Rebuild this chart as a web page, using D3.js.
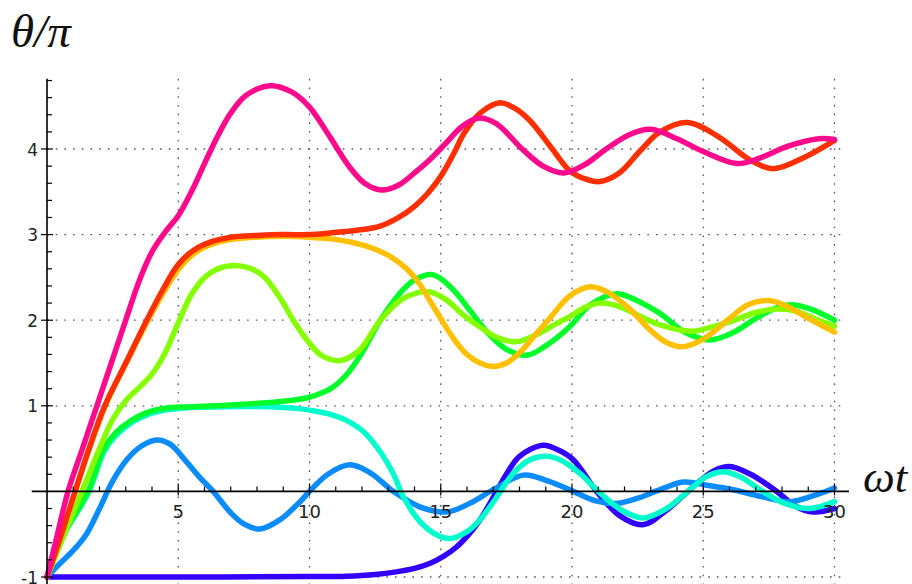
<!DOCTYPE html>
<html>
<head>
<meta charset="utf-8">
<script src="https://cdn.jsdelivr.net/npm/d3@7"></script>
<style>
html,body{margin:0;padding:0;background:#fff;}
svg{display:block;}
</style>
</head>
<body>
<svg id="chart" width="912" height="584"></svg>
<script>
// ---- data (t = ωt, θ/π) ----
const xTickValues = [5, 10, 15, 20, 25, 30];
const xTickLabels = ["5", "10", "15", "20", "25", "30"];
const yTickValues = [-1, 1, 2, 3, 4];
const yTickLabels = ["-1", "1", "2", "3", "4"];
const seriesNames = ["violet", "lightBlue", "cyan", "green", "yellowGreen", "orange", "red", "pink"];
const seriesColors = ["#3300ff", "#0a8cff", "#00ffcc", "#00ff2a", "#85ff00", "#ffc000", "#ff2f00", "#ff0a8c"];

const violet = [[0,-1],[5,-1],[10,-0.995],[11.4,-0.99],[12.5,-0.97],[13.3,-0.94],[14,-0.9],[14.6,-0.84],[15.1,-0.76],[15.6,-0.65],[16.1,-0.49],[16.5,-0.33],[17.13,0],[17.5,0.2],[18,0.41],[18.9,0.54],[19.5,0.48],[20.05,0.37],[20.94,0],[21.8,-0.28],[22.7,-0.39],[23.6,-0.22],[24.75,0.09],[25.4,0.24],[26,0.29],[26.8,0.2],[27.8,0],[28.5,-0.17],[29.2,-0.24],[30,-0.2]];
const lightBlue = [[0,-1],[0.5,-0.84],[1,-0.69],[1.5,-0.5],[2,-0.2],[2.5,0.12],[3.04,0.37],[3.6,0.53],[4.18,0.6],[4.7,0.55],[5.3,0.35],[5.8,0.17],[6.33,0],[7,-0.25],[7.5,-0.38],[8.11,-0.44],[8.88,-0.33],[9.64,-0.12],[10,0],[10.7,0.2],[11.54,0.31],[12.3,0.22],[13.2,0],[14.2,-0.18],[15.23,-0.24],[16.1,-0.14],[17,0.02],[18.15,0.19],[19.1,0.12],[20.05,0],[20.9,-0.11],[21.7,-0.14],[22.5,-0.08],[23.35,0.02],[24.24,0.11],[25.2,0.07],[26.14,0.02],[27.2,-0.06],[28.3,-0.12],[29.2,-0.05],[30,0.04]];
const cyan = [[0,-1],[0.62,-0.52],[1.6,0],[2.18,0.47],[2.65,0.66],[3.2,0.8],[3.85,0.9],[4.5,0.95],[5.5,0.98],[7,0.99],[8.5,0.99],[9.5,0.97],[10.2,0.94],[10.8,0.9],[11.4,0.83],[12.05,0.7],[12.7,0.46],[13.2,0.2],[13.57,-0.06],[14.2,-0.35],[14.8,-0.5],[15.35,-0.55],[16,-0.47],[16.5,-0.33],[17.1,-0.08],[17.76,0.21],[18.4,0.37],[19.04,0.41],[19.6,0.36],[20.3,0.21],[21.07,-0.02],[21.9,-0.22],[22.7,-0.31],[23.6,-0.2],[24.6,0.05],[25.1,0.17],[25.76,0.23],[26.4,0.17],[27.16,0.02],[28.1,-0.14],[29.07,-0.2],[30,-0.12]];
const green = [[0,-1],[0.6,-0.52],[1.57,0],[2.14,0.48],[2.6,0.68],[3.16,0.82],[3.8,0.92],[4.43,0.97],[5.5,0.99],[7,1.01],[8.5,1.04],[9.5,1.07],[10.2,1.12],[10.8,1.2],[11.4,1.36],[12,1.62],[12.7,2.0],[13.4,2.3],[14,2.47],[14.72,2.53],[15.4,2.38],[16.1,2.12],[16.8,1.85],[17.5,1.66],[18.27,1.59],[19,1.7],[19.9,1.92],[20.7,2.18],[21.7,2.31],[22.4,2.24],[23.35,2.08],[24.3,1.86],[25.26,1.77],[26.1,1.85],[26.9,2.0],[27.6,2.12],[28.3,2.18],[29.1,2.13],[30,2.0]];
const yellowGreen = [[0,-1],[0.6,-0.55],[1.33,0],[2,0.5],[2.5,0.84],[3,1.06],[3.5,1.21],[4,1.37],[4.5,1.62],[5,1.97],[5.5,2.3],[6,2.5],[6.5,2.6],[7.16,2.64],[7.8,2.6],[8.3,2.5],[8.9,2.25],[9.4,1.99],[10,1.73],[10.5,1.58],[11.2,1.53],[11.9,1.65],[12.7,2.0],[13.5,2.24],[14.1,2.32],[14.6,2.33],[15.2,2.24],[15.9,2.05],[16.5,1.92],[17.2,1.79],[17.9,1.75],[18.7,1.84],[19.4,1.96],[19.9,2.04],[20.5,2.15],[21.07,2.2],[21.8,2.16],[22.5,2.06],[23.3,1.95],[24.56,1.87],[25.2,1.91],[26,1.98],[27,2.09],[27.8,2.13],[28.6,2.1],[29.3,2.01],[30,1.93]];
const orange = [[0,-1],[0.5,-0.56],[1.08,0],[1.62,0.5],[2.22,1],[3.02,1.5],[3.85,2],[4.45,2.33],[5.05,2.61],[5.7,2.8],[6.4,2.9],[7.2,2.95],[8,2.97],[9,2.98],[10,2.97],[10.8,2.95],[11.6,2.91],[12.4,2.84],[13.1,2.74],[13.7,2.6],[14.2,2.42],[14.6,2.22],[15,2.02],[15.5,1.78],[16,1.6],[16.5,1.5],[17,1.46],[17.5,1.5],[18.1,1.65],[18.6,1.83],[19.2,2.04],[19.9,2.28],[20.7,2.39],[21.4,2.32],[22.2,2.13],[23,1.88],[23.6,1.74],[24.2,1.69],[25,1.78],[26,2.02],[26.7,2.18],[27.5,2.23],[28.2,2.16],[28.9,2.04],[30,1.86]];
const red = [[0,-1],[0.5,-0.55],[1.07,0],[1.6,0.5],[2.2,1],[3,1.5],[3.8,2],[4.4,2.35],[5,2.65],[5.6,2.82],[6.3,2.92],[7,2.97],[8,2.99],[9,3.0],[10,3.0],[10.8,3.02],[11.8,3.05],[12.7,3.1],[13.4,3.2],[14,3.33],[14.5,3.48],[15,3.68],[15.5,3.95],[15.9,4.19],[16.5,4.42],[17.26,4.54],[17.8,4.48],[18.4,4.33],[19.2,4.02],[19.9,3.75],[20.5,3.65],[21.07,3.62],[21.8,3.72],[22.6,3.98],[23.35,4.2],[24.4,4.31],[25.6,4.14],[26.8,3.87],[27.67,3.77],[28.9,3.91],[30,4.1]];
const pink = [[0,-1],[0.4,-0.5],[0.8,0],[1.35,0.5],[1.9,1],[2.45,1.5],[3,2],[3.5,2.45],[4,2.8],[4.5,3.03],[5,3.22],[5.5,3.5],[6,3.83],[6.5,4.15],[7,4.42],[7.6,4.63],[8.5,4.74],[9.3,4.67],[10,4.49],[10.8,4.13],[11.5,3.8],[12.1,3.6],[12.75,3.52],[13.4,3.58],[14,3.72],[14.6,3.88],[15.2,4.07],[15.8,4.26],[16.4,4.36],[17.1,4.3],[18.1,4.0],[18.9,3.8],[19.7,3.72],[20.5,3.82],[21.3,4.0],[22.2,4.17],[23,4.23],[24,4.12],[25,3.97],[26.3,3.83],[27.2,3.9],[28.2,4.03],[29.4,4.12],[30,4.11]];

const seriesData = [violet, lightBlue, cyan, green, yellowGreen, orange, red, pink];

// ---- layout ----
const svg = d3.select("#chart");
const x = d3.scaleLinear().domain([0, 30]).range([47, 834.5]);
const y = d3.scaleLinear().domain([-1, 4]).range([577, 149]);

const gridColor = "#555";
// grid
const grid = svg.append("g");
grid.selectAll("line.vg").data(xTickValues).enter().append("line")
  .attr("x1", d => x(d)).attr("x2", d => x(d))
  .attr("y1", y(4.82)).attr("y2", 584)
  .attr("stroke", gridColor).attr("stroke-width", 1.3).attr("stroke-dasharray", "1.6,7.1");
grid.selectAll("line.hg").data(yTickValues).enter().append("line")
  .attr("x1", x(0)).attr("x2", x(30.4))
  .attr("y1", d => y(d)).attr("y2", d => y(d))
  .attr("stroke", gridColor).attr("stroke-width", 1.3).attr("stroke-dasharray", "1.6,7.1");

// curves
const line = d3.line().x(d => x(d[0])).y(d => y(d[1])).curve(d3.curveCatmullRom.alpha(0.5));
svg.append("g").selectAll("path").data(seriesData).enter().append("path")
  .attr("d", line)
  .attr("fill", "none")
  .attr("stroke", (d, i) => seriesColors[i])
  .attr("stroke-width", 5.5)
  .attr("stroke-linejoin", "round")
  .attr("stroke-linecap", "round");

// axes
const ax = svg.append("g").attr("stroke", "#000");
ax.append("line").attr("x1", x(-0.58)).attr("x2", x(30.55)).attr("y1", y(0)).attr("y2", y(0)).attr("stroke-width", 1.6);
ax.append("line").attr("x1", x(0)).attr("x2", x(0)).attr("y1", y(4.82)).attr("y2", 584).attr("stroke-width", 1.6);

const xMinor = d3.range(1, 31).filter(v => v % 5 !== 0);
ax.selectAll("line.xm").data(xMinor).enter().append("line")
  .attr("x1", d => x(d)).attr("x2", d => x(d))
  .attr("y1", y(0) - 5).attr("y2", y(0)).attr("stroke-width", 1.2);
ax.selectAll("line.xM").data(xTickValues).enter().append("line")
  .attr("x1", d => x(d)).attr("x2", d => x(d))
  .attr("y1", y(0) - 8).attr("y2", y(0) + 4).attr("stroke-width", 1.2);

const yMinor = d3.range(-5, 25).map(v => v / 5).filter(v => Math.abs(v - Math.round(v)) > 1e-6 && v <= 4.82);
ax.selectAll("line.ym").data(yMinor).enter().append("line")
  .attr("x1", x(0)).attr("x2", x(0) + 5)
  .attr("y1", d => y(d)).attr("y2", d => y(d)).attr("stroke-width", 1.2);
ax.selectAll("line.yM").data(yTickValues).enter().append("line")
  .attr("x1", x(0) - 6).attr("x2", x(0) + 6)
  .attr("y1", d => y(d)).attr("y2", d => y(d)).attr("stroke-width", 1.2);

// tick labels
svg.append("g").selectAll("text").data(xTickValues).enter().append("text")
  .attr("x", d => x(d)).attr("y", 518)
  .attr("text-anchor", "middle")
  .attr("font-family", "DejaVu Sans").attr("font-size", 18).attr("fill", "#222")
  .text((d, i) => xTickLabels[i]);
svg.append("g").selectAll("text").data(yTickValues).enter().append("text")
  .attr("x", 38).attr("y", d => y(d) + 6.5)
  .attr("text-anchor", "end")
  .attr("font-family", "DejaVu Sans").attr("font-size", 17).attr("fill", "#222")
  .text((d, i) => yTickLabels[i]);

// axis titles
svg.append("text").attr("x", 11).attr("y", 47)
  .attr("font-family", "Liberation Serif").attr("font-style", "italic").attr("font-size", 47).attr("fill", "#111")
  .text("θ/π");
svg.append("text").attr("x", 863).attr("y", 492)
  .attr("font-family", "Liberation Serif").attr("font-style", "italic").attr("font-size", 45).attr("fill", "#111")
  .text("ωt");
</script>
</body>
</html>
